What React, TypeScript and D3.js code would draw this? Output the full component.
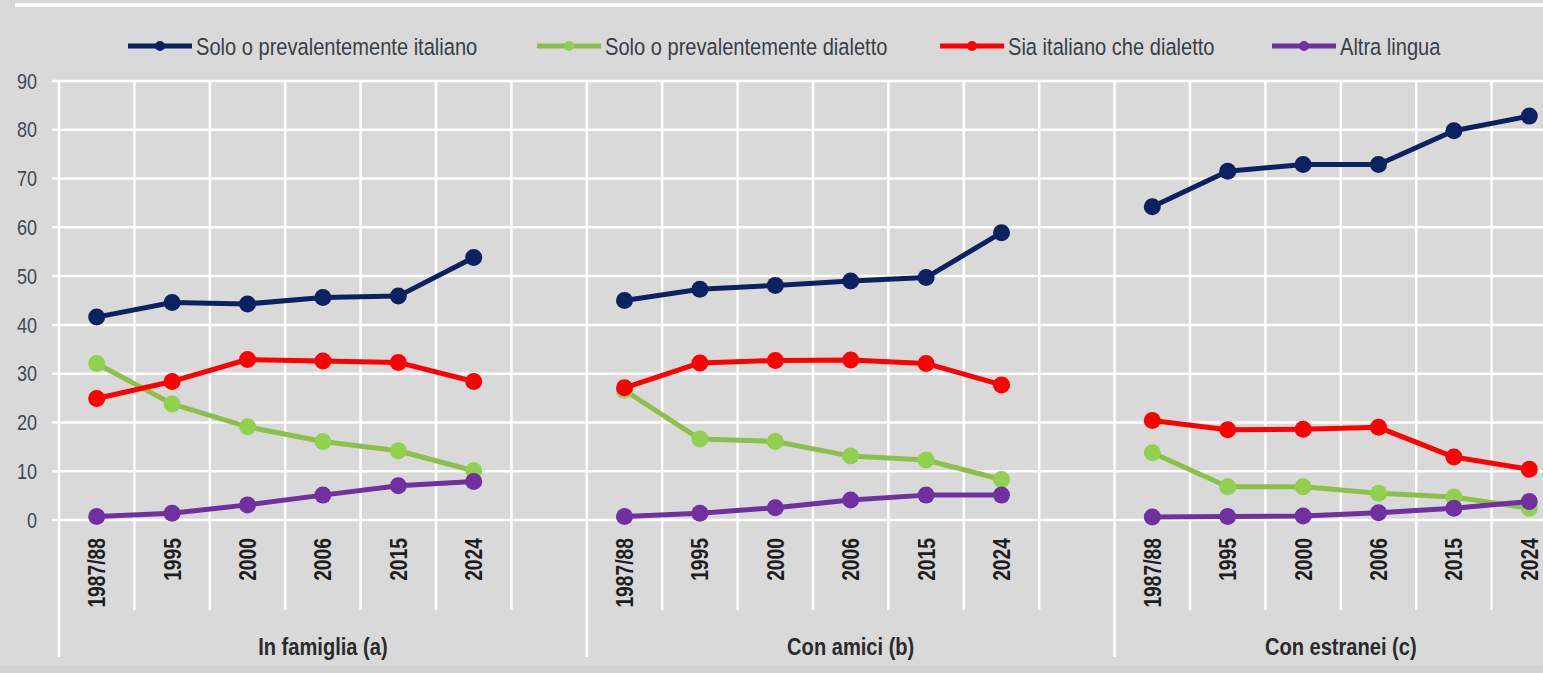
import React from "react";
import * as d3 from "d3";

const YEARS = ["1987/88", "1995", "2000", "2006", "2015", "2024"];
const GROUPS = ["In famiglia (a)", "Con amici (b)", "Con estranei (c)"];
const SERIES_NAMES = [
  "Solo o prevalentemente italiano",
  "Solo o prevalentemente dialetto",
  "Sia italiano che dialetto",
  "Altra lingua",
];
// values per group (famiglia, amici, estranei), per year
const italiano = [
  [41.6, 44.6, 44.3, 45.6, 45.9, 53.8],
  [45.0, 47.3, 48.1, 49.0, 49.7, 58.9],
  [64.2, 71.5, 72.9, 72.9, 79.8, 82.8],
];
const dialetto = [
  [32.1, 23.8, 19.1, 16.1, 14.2, 10.1],
  [26.6, 16.6, 16.1, 13.1, 12.3, 8.3],
  [13.8, 6.8, 6.8, 5.5, 4.7, 2.4],
];
const sia = [
  [24.9, 28.4, 32.9, 32.6, 32.3, 28.4],
  [27.1, 32.2, 32.7, 32.8, 32.1, 27.7],
  [20.4, 18.5, 18.6, 19.0, 12.9, 10.4],
];
const altra = [
  [0.7, 1.4, 3.1, 5.1, 7.0, 7.9],
  [0.7, 1.4, 2.5, 4.1, 5.1, 5.1],
  [0.6, 0.7, 0.8, 1.5, 2.4, 3.8],
];
const Y_TICKS = [0, 10, 20, 30, 40, 50, 60, 70, 80, 90];

const SERIES = [
  { name: SERIES_NAMES[0], values: italiano, line: "#0c2260", fill: "#0c2260" },
  { name: SERIES_NAMES[1], values: dialetto, line: "#8cc04a", fill: "#92d050" },
  { name: SERIES_NAMES[2], values: sia, line: "#ff0000", fill: "#ff0000" },
  { name: SERIES_NAMES[3], values: altra, line: "#7030a0", fill: "#7030a0" },
];

const W = 1543;
const H = 673;
const FONT = "'Liberation Sans', Arial, sans-serif";
const NARROW = 0.82;

// slot keys: 6 years per group + an empty gap slot after groups 1 and 2
const SLOTS: string[] = [];
GROUPS.forEach((g, gi) => {
  YEARS.forEach((y) => SLOTS.push(`${gi}|${y}`));
  if (gi < GROUPS.length - 1) SLOTS.push(`${gi}|gap`);
});

const LEGEND_X = [128, 537, 940, 1272];

export default function App() {
  const x = d3.scaleBand<string>().domain(SLOTS).range([59, 59 + 75.4 * SLOTS.length]).padding(0);
  const y = d3.scaleLinear().domain([0, 90]).range([520, 81]);
  const bw = x.bandwidth();
  const line = d3
    .line<[number, number]>()
    .x((d) => d[0])
    .y((d) => d[1]);

  const boundaries = SLOTS.map((s, i) => ({ i, x: x(s)! }));
  const groupStarts = GROUPS.map((g, gi) => x(`${gi}|${YEARS[0]}`)!);
  const groupEnds = GROUPS.map((g, gi) => x(`${gi}|${YEARS[YEARS.length - 1]}`)! + bw);

  return (
    <svg
      width={W}
      height={H}
      style={{ position: "absolute", left: 0, top: 0, display: "block", background: "#d9d9d9" }}
    >
      <rect x={0} y={0} width={W} height={H} fill="#d9d9d9" />
      <rect x={0} y={665} width={W} height={8} fill="#d3d3d3" />
      <line x1={15} x2={W} y1={5} y2={5} stroke="#ffffff" strokeWidth={4} />

      {/* horizontal gridlines */}
      {Y_TICKS.map((t) => (
        <line key={`h${t}`} x1={52} x2={W} y1={y(t)} y2={y(t)} stroke="#ffffff" strokeWidth={2.5} />
      ))}
      {/* vertical lines */}
      {boundaries.map((b) => {
        const isLong = b.i === 0 || SLOTS[b.i - 1]?.endsWith("gap");
        return (
          <line
            key={`v${b.i}`}
            x1={b.x}
            x2={b.x}
            y1={y(90)}
            y2={isLong ? 657 : 610}
            stroke="#ffffff"
            strokeWidth={2.5}
          />
        );
      })}

      {/* y tick labels */}
      {Y_TICKS.map((t) => (
        <text
          key={`yt${t}`}
          transform={`translate(37,${y(t)}) scale(${NARROW},1)`}
          dy="0.35em"
          textAnchor="end"
          fontFamily={FONT}
          fontSize={22}
          fill="#3f4a55"
        >
          {t}
        </text>
      ))}

      {/* year labels */}
      {GROUPS.map((g, gi) =>
        YEARS.map((yr) => {
          const cx = x(`${gi}|${yr}`)! + bw / 2;
          return (
            <text
              key={`yl${gi}${yr}`}
              transform={`translate(${cx},538) rotate(-90) scale(${NARROW},1)`}
              dy="0.36em"
              textAnchor="end"
              fontFamily={FONT}
              fontWeight="bold"
              fontSize={23.5}
              fill="#1e1e1e"
            >
              {yr}
            </text>
          );
        })
      )}

      {/* group labels */}
      {GROUPS.map((g, gi) => (
        <text
          key={`gl${gi}`}
          transform={`translate(${(groupStarts[gi] + groupEnds[gi] + (gi < 2 ? bw : 0)) / 2},655) scale(${NARROW},1)`}
          textAnchor="middle"
          fontFamily={FONT}
          fontWeight="bold"
          fontSize={24.5}
          fill="#2b2b2b"
        >
          {g}
        </text>
      ))}

      {/* series */}
      {SERIES.map((s, si) => (
        <g key={`s${si}`}>
          {GROUPS.map((g, gi) => {
            const pts: [number, number][] = YEARS.map((yr, yi) => [
              x(`${gi}|${yr}`)! + bw / 2,
              y(s.values[gi][yi]),
            ]);
            return (
              <g key={`sg${gi}`}>
                <path d={line(pts)!} fill="none" stroke={s.line} strokeWidth={5} strokeLinejoin="round" />
                {pts.map((p, pi) => (
                  <circle key={pi} cx={p[0]} cy={p[1]} r={8.5} fill={s.fill} />
                ))}
              </g>
            );
          })}
        </g>
      ))}

      {/* legend */}
      {SERIES.map((s, si) => (
        <g key={`lg${si}`} transform={`translate(${LEGEND_X[si]},46)`}>
          <line x1={0} x2={64} y1={0} y2={0} stroke={s.line} strokeWidth={5} />
          <circle cx={32} cy={0} r={5} fill={s.fill} />
          <text
            transform={`translate(68,0) scale(${NARROW},1)`}
            dy="0.35em"
            fontFamily={FONT}
            fontSize={24.5}
            fill="#3a3f47"
          >
            {s.name}
          </text>
        </g>
      ))}
    </svg>
  );
}
